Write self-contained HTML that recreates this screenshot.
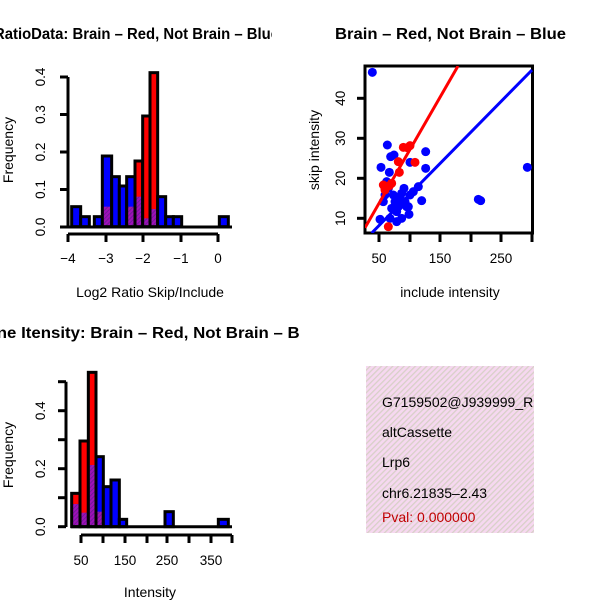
<!DOCTYPE html>
<html><head><meta charset="utf-8"><style>
html,body{margin:0;padding:0;background:#fff;}
svg{display:block;font-family:"Liberation Sans",sans-serif;}
</style></head><body>
<svg id="s" width="600" height="600" viewBox="0 0 600 600" xmlns="http://www.w3.org/2000/svg">
<defs>
<pattern id="hp" width="4" height="4" patternUnits="userSpaceOnUse" patternTransform="rotate(45)">
<rect width="4" height="4" fill="#f6d8f0"/><rect width="1.3" height="4" fill="#d8d0c8"/>
</pattern>
<pattern id="pp" width="3" height="3" patternUnits="userSpaceOnUse" patternTransform="rotate(45)">
<rect width="3" height="3" fill="#a010b8"/><rect width="1" height="3" fill="#701a98"/>
</pattern>
<clipPath id="c1"><rect x="0" y="0" width="272" height="60"/></clipPath>
<clipPath id="c2"><rect x="0" y="300" width="300" height="60"/></clipPath>
</defs>
<!-- titles -->
<g clip-path="url(#c1)"><text x="-6" y="39" font-size="15.5" font-weight="bold" textLength="285" lengthAdjust="spacingAndGlyphs">RatioData: Brain – Red, Not Brain – Blue</text></g>
<text x="335" y="39" font-size="15.5" font-weight="bold" textLength="231" lengthAdjust="spacingAndGlyphs">Brain – Red, Not Brain – Blue</text>
<g clip-path="url(#c2)"><text x="-64" y="338" font-size="15.5" font-weight="bold" textLength="388" lengthAdjust="spacingAndGlyphs">Exon Line Itensity: Brain – Red, Not Brain – Blue</text></g>
<!-- axis labels -->
<text x="150" y="297" font-size="14" text-anchor="middle">Log2 Ratio Skip/Include</text>
<text x="13" y="150" font-size="14" text-anchor="middle" transform="rotate(-90 13 150)">Frequency</text>
<text x="450" y="297" font-size="14" text-anchor="middle">include intensity</text>
<text x="319" y="150" font-size="14" text-anchor="middle" transform="rotate(-90 319 150)">skip intensity</text>
<text x="150" y="597" font-size="14" text-anchor="middle">Intensity</text>
<text x="13" y="455" font-size="14" text-anchor="middle" transform="rotate(-90 13 455)">Frequency</text>
<g id="g"></g>
<!-- info box -->
<rect x="366" y="366" width="168" height="167" fill="url(#hp)"/>
<g font-size="14">
<text x="382" y="407">G7159502@J939999_RC</text>
<text x="382" y="437">altCassette</text>
<text x="382" y="467">Lrp6</text>
<text x="382" y="498">chr6.21835–2.43</text>
<text x="382" y="522" fill="#c00000">Pval: 0.000000</text>
</g>
<rect x="534" y="360" width="66" height="180" fill="#fff"/>
</svg>
<script>
var g=document.getElementById('g'),h='';
function R(x,y,w,hh,f){h+='<rect x="'+x+'" y="'+y+'" width="'+w+'" height="'+hh+'" fill="'+f+'"/>';}
function L(x1,y1,x2,y2,c,w){h+='<line x1="'+x1+'" y1="'+y1+'" x2="'+x2+'" y2="'+y2+'" stroke="'+(c||'#000')+'" stroke-width="'+(w||3)+'"/>';}
function T(x,y,t,a,rot){h+='<text x="'+x+'" y="'+y+'" font-size="13.5" text-anchor="'+(a||'middle')+'"'+(rot?' transform="rotate(-90 '+x+' '+y+')"':'')+'>'+t+'</text>';}
function hist(ox,oy,base,bars){
 bars.forEach(function(b){
  var x=ox+b[0]/3,w=(b[1]-b[0])/3;var blue=b[2],red=b[3],pur=b[4];
  var top=Math.min(blue,red);
  if(blue<900) R(x,oy+blue/3,w,(base-blue)/3,'#0000ff');
  if(red<900) R(x,oy+red/3,w,(base-red)/3,'#ff0000');
  if(pur<900) R(x,oy+pur/3,w,(base-pur)/3,'url(#pp)');
  h+='<rect x="'+x+'" y="'+(oy+top/3)+'" width="'+w+'" height="'+((base-top)/3)+'" fill="none" stroke="#000" stroke-width="3"/>';
 });
}
var N=999;
L(68,227,68,77);[227,189.5,152,114.5,77].forEach(function(y,i){L(60,y,68,y);T(45,y,(i/10).toFixed(1),'middle',true);});
L(68,234,218,234);[68,106,143,181,218].forEach(function(x,i){L(x,234,x,242);T(x,263,['−4','−3','−2','−1','0'][i]);});
hist(0,50,530,[
[215,242,470,N,N],[242,268,500,N,N],[283,307,500,N,N],[307,335,318,N,470],[335,358,380,N,N],
[358,380,408,N,N],[380,405,380,N,470],[405,428,440,333,440],[428,450,505,198,505],[450,473,477,68,477],
[473,497,440,N,N],[497,520,500,N,N],[520,545,500,N,N],[658,685,500,N,N]]);
L(68,227,232,227,'#000',3);
L(66,527,66,381.7);[526.7,497.7,468.7,439.7,410.7,381.7].forEach(function(y,i){L(58,y,66,y);if(i%2==0)T(45,y,(i/10).toFixed(1),'middle',true);});
L(81,535,232,535);[81,103,125,147,167,189,211,232].forEach(function(x,i){L(x,535,x,543);});
[[81,'50'],[125,'150'],[167,'250'],[211,'350']].forEach(function(a){T(a[0],565,a[1]);});
hist(30,360,500,[
[125,150,N,400,432],[150,175,N,243,458],[175,198,N,37,315],[198,220,290,N,455],[220,243,380,N,N],
[243,268,360,N,N],[268,290,478,N,N],[405,430,455,N,N],[565,595,478,N,N]]);
L(71,526.7,232,526.7,'#000',3);
h+='<rect x="365" y="66" width="167.5" height="167" fill="none" stroke="#000" stroke-width="3"/>';
[[379,'50'],[440,'150'],[501,'250']].forEach(function(a){L(a[0],234,a[0],242);T(a[0],263,a[1]);});
[410,471,532].forEach(function(x){L(x,234,x,242);});
[10,20,30,40].forEach(function(v){var y=218.3-4*(v-10);L(357,y,365,y);T(345,y,v,'middle',true);});
h+='<svg x="365" y="66" width="168" height="167" overflow="hidden"><g transform="translate(-365 -66)">';
var bl=[[127,52],[172,270],[153,337],[182,305],[192,300],[240,322],[287,290],[287,340],[170,380],[178,352],[265,395],[250,410],[240,420],[222,400],[210,430],[195,440],[185,460],[200,470],[215,490],[237,478],[230,455],[150,493],[275,437],[445,433],[452,437],[592,337],[180,490],[165,420],[160,440],[205,455],[175,400],[190,420],[215,415],[225,440],[200,500],[235,455]];
bl.forEach(function(p){h+='<circle cx="'+(330+p[0]/3)+'" cy="'+(55+p[1]/3)+'" r="4.5" fill="#0000ff"/>';});
var rd=[[220,277],[240,272],[255,322],[205,320],[208,352],[178,392],[165,405],[160,390],[175,515],[185,385],[232,278]];
rd.forEach(function(p){h+='<circle cx="'+(330+p[0]/3)+'" cy="'+(55+p[1]/3)+'" r="4.5" fill="#ff0000"/>';});
L(365,227.7,458,66,'#ff0000',3);
L(371.7,233,532,70,'#0000ff',3);
h+='</g></svg>';
g.innerHTML=h;
</script>
</body></html>
